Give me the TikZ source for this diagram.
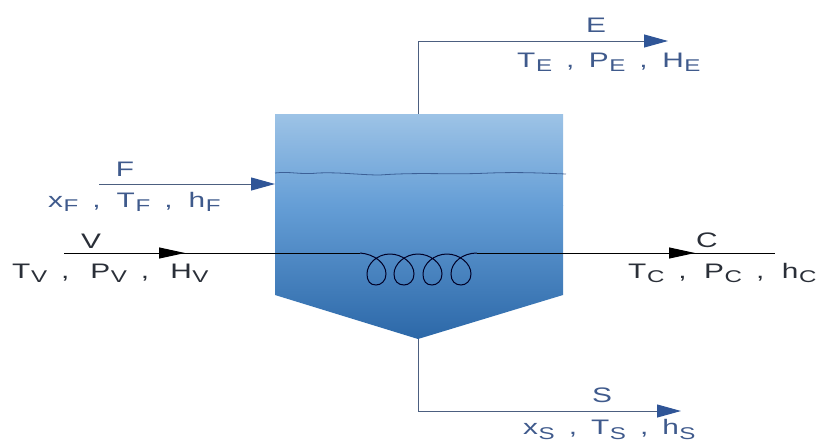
\documentclass[tikz,border=0pt]{standalone}
\usepackage{fontspec}
\setmainfont[FakeStretch=1.42]{Liberation Sans}
\usetikzlibrary{arrows.meta}
\definecolor{bluetext}{HTML}{3F5A8C}
\definecolor{darktext}{HTML}{2A2F38}
\definecolor{blueline}{HTML}{4C5F80}
\definecolor{bluehead}{HTML}{2F5597}
\definecolor{tanktop}{HTML}{9DC3E6}
\definecolor{tankmid}{HTML}{659ED6}
\definecolor{tankbot}{HTML}{2C68A8}
\newcommand{\subs}[1]{\kern0.6pt\raisebox{-0.22em}{\fontsize{17}{18}\selectfont #1}}
\newlength{\gapx}
\newcommand{\sepc}{\kern14pt,\kern\gapx}
\tikzset{
  lab/.style={anchor=base,inner sep=0pt,font=\fontsize{21}{23}\selectfont},
  listlab/.style={anchor=base west,inner sep=0pt,font=\fontsize{21}{23}\selectfont},
  streamblue/.style={draw=blueline,line width=1pt},
  streamblack/.style={draw=black,line width=1pt},
  headblue/.style={-{Triangle[length=24pt,width=13pt,color=bluehead]}},
  headblack/.style={-{Triangle[length=26pt,width=11pt,color=black]}},
}
\begin{document}
\begin{tikzpicture}[x=1pt,y=-1pt]
\useasboundingbox (0,0) rectangle (817,442);
% tank
\path[top color=tanktop,bottom color=tankmid,draw=none] (275,114) rectangle (563,205);
\path[top color=tankmid,bottom color=tankbot,draw=none] (275,205) -- (563,205) -- (563,295) -- (418,339) -- (275,295) -- cycle;
\draw[draw=bluehead!85!black,line width=0.8pt,opacity=.75]
  (275,173) .. controls (290,171) and (300,175) .. (318,173)
  .. controls (340,172) and (360,175) .. (380,175)
  .. controls (420,172) and (450,175) .. (490,173) .. controls (520,172) and (540,173) .. (566,174);
% anchors
\coordinate (tanktopc) at (418,114);
\coordinate (tankapex) at (418,339);
\coordinate (eout) at (668,41);
\coordinate (ecorner) at (418,41);
\coordinate (scorner) at (418,411);
\coordinate (sout) at (681,411);
\coordinate (fin) at (99,184);
\coordinate (fend) at (275,184);
\coordinate (vin) at (64,253);
\coordinate (vtip) at (185,253);
\coordinate (coilin) at (360,253);
\coordinate (coilout) at (477,253);
\coordinate (ctip) at (695,253);
\coordinate (cend) at (775,253);
% streams
\draw[streamblue,headblue] (tanktopc) -- (ecorner) -- (eout);
\draw[streamblue,headblue] (tankapex) -- (scorner) -- (sout);
\draw[streamblue,headblue] (fin) -- (fend);
\draw[streamblack] (vin) -- (coilin);
\draw[streamblack,headblack] (vin) -- (vtip);
\draw[draw=black!85!blue,line width=1pt]
  (coilin) .. controls (374,254) and (386,263) .. (386,274)
  .. controls (386,281) and (381,285) .. (376,285)
  .. controls (370,285) and (367,281) .. (367,274)
  .. controls (367,264) and (377,254) .. (390,254)
  .. controls (402,254) and (414,263) .. (414,274)
  .. controls (414,281) and (409,285) .. (404,285)
  .. controls (398,285) and (394,281) .. (394,274)
  .. controls (394,264) and (405,254) .. (418,254)
  .. controls (430,254) and (442,263) .. (442,274)
  .. controls (442,281) and (437,285) .. (432,285)
  .. controls (426,285) and (423,281) .. (423,274)
  .. controls (423,264) and (434,254) .. (447,254)
  .. controls (459,254) and (471,263) .. (471,274)
  .. controls (471,281) and (466,285) .. (461,285)
  .. controls (455,285) and (451,281) .. (451,274)
  .. controls (451,262) and (463,253) .. (coilout);
\draw[streamblack] (coilout) -- (cend);
\draw[streamblack,headblack] (coilout) -- (ctip);
% labels
\node[lab,text=bluetext] (lE) at (596,32) {E};
\node[listlab,text=bluetext] (lEv) at (517,67) {\setlength{\gapx}{14.5pt}T\subs{E}\sepc P\subs{E}\sepc H\subs{E}};
\node[lab,text=bluetext] (lF) at (125,176) {F};
\node[listlab,text=bluetext] (lFv) at (48,207) {\setlength{\gapx}{16pt}x\subs{F}\sepc T\subs{F}\sepc h\subs{F}};
\node[lab,text=darktext] (lV) at (91,248) {V};
\node[listlab,text=darktext] (lVv) at (12,278) {\setlength{\gapx}{21pt}T\subs{V}\sepc P\subs{V}\sepc H\subs{V}};
\node[lab,text=darktext] (lC) at (707,247) {C};
\node[listlab,text=darktext] (lCv) at (628,278) {\setlength{\gapx}{17.5pt}T\subs{C}\sepc P\subs{C}\sepc h\subs{C}};
\node[lab,text=bluetext] (lS) at (602,402) {S};
\node[listlab,text=bluetext] (lSv) at (523,434.5) {\setlength{\gapx}{14pt}x\subs{S}\sepc T\subs{S}\sepc h\subs{S}};
\end{tikzpicture}
\end{document}
